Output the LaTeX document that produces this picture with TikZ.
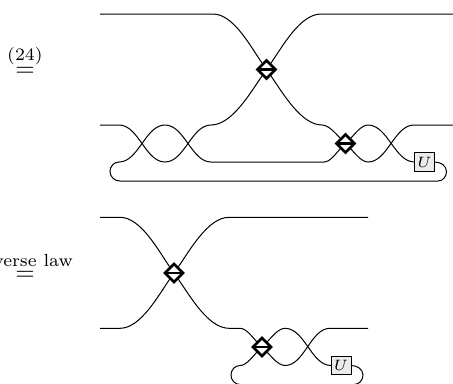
\documentclass[tikz,border=0pt]{standalone}
\usepackage{amsmath}
\usetikzlibrary{shapes.geometric}
\newcommand{\dmdnode}[3]{%
  \node[dmd] (#1) at (#2,#3) {};
  \draw[line width=1pt] (#1.west) -- (#1.east);}
\newcommand{\wirept}[3]{\coordinate (#1) at (#2,#3);}

\begin{document}
\begin{tikzpicture}[x=0.4pt, y=0.4pt,
  dmd/.style={draw, diamond, line width=1pt, minimum width=7.2pt, minimum height=7.2pt,
              inner sep=0pt, outer sep=0pt, fill=white},
  ubox/.style={draw, minimum width=8pt, minimum height=7.4pt, inner sep=0pt, outer sep=0pt,
               fill=black!8, font=\fontsize{6}{7}\selectfont},
  lbl/.style={anchor=base, inner sep=0pt},
  sw/.style={out=0, in=180, looseness=0.85},
  tosw/.style={looseness=0.75},
  wire/.style={line width=0.4pt}]
\useasboundingbox (0,0) rectangle (453,383);
\clip (0,0) rectangle (453,383);
% equalities
\node[lbl] (eqA) at (25,306.3) {$\stackrel{(24)}{=}$};
\node[lbl] (eqB) at (25,102.5) {$\stackrel{\text{inverse law}}{=}$};
% upper diagram
\dmdnode{dmdA}{266.5}{313.5}
\dmdnode{dmdB}{345.5}{239.5}
\node[ubox] (uA) at (424.5,221) {$U$};
\foreach \n/\x/\y in {a1/100/369, a2/213/369, a3/321/369, a4/453/369,
                      b1/100/258, b2/119/258, b3/165/258, b4/211/258,
                      b5/322/258, b6/368/258, b7/414/258, b8/453/258,
                      c1/119/221, c2/165/221, c3/211/221, c4/324/221,
                      c5/368/221, d1/110/211.5, d2/120/202, d3/438/202, d4/446.5/211.5}
  {\wirept{\n}{\x}{\y}}
\draw[wire] (a1) -- (a2) to[out=0, in=125, tosw] (dmdA);
\draw[wire] (dmdA) to[out=55, in=180, tosw] (a3) -- (a4);
\draw[wire] (b1) -- (b2) to[sw] (c2) to[sw] (b4) to[out=0, in=235, tosw] (dmdA);
\draw[wire] (dmdA) to[out=-55, in=180, tosw] (b5) to[out=0, in=135, tosw] (dmdB);
\draw[wire] (c1) to[sw] (b3) to[sw] (c3) -- (c4) to[out=0, in=225, tosw] (dmdB);
\draw[wire] (dmdB) to[out=45, in=180, tosw] (b6) to[sw] (uA.west);
\draw[wire] (dmdB) to[out=-45, in=180, tosw] (c5) to[sw] (b7) -- (b8);
\draw[wire] (uA.east) to[out=0, in=90] (d4) to[out=-90, in=0] (d3) -- (d2)
  to[out=180, in=-90] (d1) to[out=90, in=180] (c1);
% lower diagram
\dmdnode{dmdC}{174}{110}
\dmdnode{dmdD}{262}{36}
\node[ubox] (uB) at (341,17.5) {$U$};
\foreach \n/\x/\y in {e1/100/165.7, e2/120/165.7, e3/229/165.7, e4/368/165.7,
                      f1/100/54.7, f2/120/54.7, f3/229/54.7, f4/240/54.7,
                      f5/285/54.7, f6/330/54.7, f7/368/54.7,
                      g1/240/17.5, g2/285/17.5, h1/231/8, h2/240/-1.5, h3/354/-1.5, h4/363/8}
  {\wirept{\n}{\x}{\y}}
\draw[wire] (e1) -- (e2) to[out=0, in=125, tosw] (dmdC);
\draw[wire] (dmdC) to[out=55, in=180, tosw] (e3) -- (e4);
\draw[wire] (f1) -- (f2) to[out=0, in=235, tosw] (dmdC);
\draw[wire] (dmdC) to[out=-55, in=180, tosw] (f3) -- (f4) to[out=0, in=135, tosw] (dmdD);
\draw[wire] (g1) to[out=0, in=225, tosw] (dmdD);
\draw[wire] (dmdD) to[out=45, in=180, tosw] (f5) to[sw] (uB.west);
\draw[wire] (dmdD) to[out=-45, in=180, tosw] (g2) to[sw] (f6) -- (f7);
\draw[wire] (uB.east) to[out=0, in=90] (h4) to[out=-90, in=0] (h3) -- (h2)
  to[out=180, in=-90] (h1) to[out=90, in=180] (g1);
\end{tikzpicture}
\end{document}
